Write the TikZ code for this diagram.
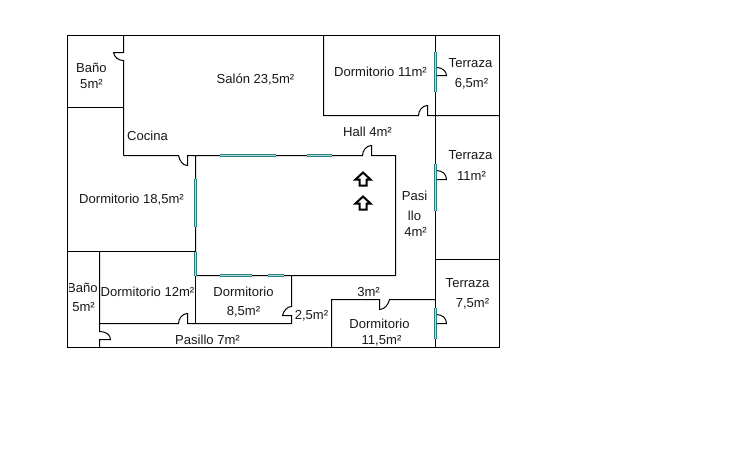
\documentclass[tikz,border=0pt]{standalone}
\usepackage{fontspec}
\setmainfont{Liberation Sans}
\definecolor{vidrio}{RGB}{40,125,125}
\definecolor{vidriocore}{RGB}{175,220,220}
\tikzset{
  wall/.style={draw=black,line width=0.75pt},
  glass/.style={draw=vidrio,line width=2.25pt},
  glasscore/.style={draw=vidriocore,line width=0.6pt},
  lbl/.style={font=\fontsize{9.8pt}{11pt}\selectfont,inner sep=0pt,align=center,text=black!90},
  flecha/.style={draw=black,line width=1.5pt,fill=white,line join=miter}
}
\newcommand{\win}[2]{\draw[glass] #1 -- #2; \draw[glasscore] #1 -- #2;}
\begin{document}
\begin{tikzpicture}[x=0.75pt,y=-0.75pt]
\useasboundingbox (0,0) rectangle (730,450);
\fill[white] (0,0) rectangle (730,450);
\begin{scope}[shift={(0.5,0.5)}]
% outer
\draw[wall] (67,35) rectangle (499,347);
% Bano top
\draw[wall] (67,107) -- (123,107);
\draw[wall] (123,35) -- (123,52) -- (113,52) .. controls (114,57) and (118,60) .. (123,60) -- (123,155);
% Kitchen wall and inner court
\draw[wall] (123,155) -- (178,155) .. controls (179,160) and (182,165) .. (187,165) -- (187,155) -- (362,155) .. controls (362,150) and (366,145) .. (371,145) -- (371,155) -- (395,155) -- (395,275) -- (195,275) -- (195,155);
% lower rooms
\draw[wall] (67,251) -- (195,251);
\draw[wall] (99,251) -- (99,331) .. controls (105,331) and (110,334) .. (110,339) -- (99,339) -- (99,347);
\draw[wall] (99,323) -- (178,323) .. controls (178,318) and (182,313) .. (187,313) -- (187,323) -- (291,323) -- (291,315) -- (282,315) .. controls (283,310) and (287,306) .. (291,306) -- (291,275);
\draw[wall] (195,275) -- (195,323);
% upper right
\draw[wall] (323,35) -- (323,115) -- (418,115) .. controls (418,110) and (422,105) .. (427,105) -- (427,115) -- (499,115);
\draw[wall] (435,35) -- (435,347);
\draw[wall] (435,259) -- (499,259);
% Dormitorio 11,5
\draw[wall] (331,347) -- (331,299) -- (379,299) -- (379,309) .. controls (384,309) and (388,304) .. (389,299) -- (435,299);
% terrace doors
\draw[wall] (436,67) .. controls (442,67) and (446,71) .. (446,75) -- (436,75);
\draw[wall] (436,170) .. controls (442,170) and (446,174) .. (446,179) -- (436,179);
\draw[wall] (436,314) .. controls (442,314) and (446,318) .. (446,323) -- (436,323);
% windows
\win{(219,155)}{(275,155)}
\win{(306,155)}{(331,155)}
\win{(195,178)}{(195,226)}
\win{(195,251)}{(195,275)}
\win{(219,275)}{(251,275)}
\win{(267,275)}{(283,275)}
\win{(435,51)}{(435,91)}
\win{(435,163)}{(435,210)}
\win{(435,307)}{(435,338)}
% arrows
\draw[flecha] (362.5,172) -- (370,179) -- (366,179) -- (366,185) -- (359,185) -- (359,179) -- (355,179) -- cycle;
\draw[flecha] (362.5,196) -- (370,203) -- (366,203) -- (366,209) -- (359,209) -- (359,203) -- (355,203) -- cycle;
% labels
\node[lbl] (bano1) at (91,67) {Baño};
\node[lbl] (bano1m) at (91,84) {5m²};
\node[lbl] (salon) at (255,79) {Salón 23,5m²};
\node[lbl] (cocina) at (147,135) {Cocina};
\node[lbl] (d11) at (380,71) {Dormitorio 11m²};
\node[lbl] (t1) at (470,63) {Terraza};
\node[lbl] (t1m) at (471,83) {6,5m²};
\node[lbl] (hall) at (367,131) {Hall 4m²};
\node[lbl] (t2) at (470,155) {Terraza};
\node[lbl] (t2m) at (471,175) {11m²};
\node[lbl] (d185) at (131,199) {Dormitorio 18,5m²};
\node[lbl] (p1) at (414,195) {Pasi};
\node[lbl] (p2) at (414,215) {llo};
\node[lbl] (p3) at (415,231) {4m²};
\node[lbl] (t3) at (467,283) {Terraza};
\node[lbl] (t3m) at (472,303) {7,5m²};
\node[lbl] (m3) at (368,291) {3m²};
\begin{scope}
\clip (68.5,270) rectangle (96.5,295);
\node[lbl] (bano2) at (82,287) {Baño};
\end{scope}
\node[lbl] (bano2m) at (83,307) {5m²};
\node[lbl] (d12) at (147,291) {Dormitorio 12m²};
\node[lbl] (d85) at (243,291) {Dormitorio};
\node[lbl] (d85m) at (243,311) {8,5m²};
\node[lbl] (m25) at (311,315) {2,5m²};
\node[lbl] (d115) at (379,323) {Dormitorio};
\node[lbl] (d115m) at (381,340) {11,5m²};
\node[lbl] (pas) at (207,339) {Pasillo 7m²};
\end{scope}
\end{tikzpicture}
\end{document}
